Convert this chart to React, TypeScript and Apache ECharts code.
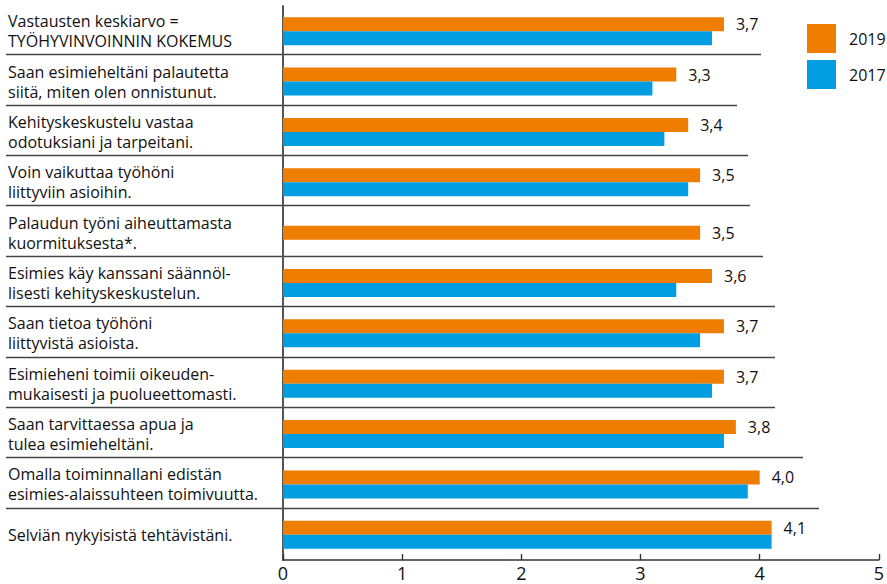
import React, { useEffect, useRef } from "react";
import * as echarts from "echarts";

const categories = [
  "Vastausten keskiarvo =\nTYÖHYVINVOINNIN KOKEMUS",
  "Saan esimieheltäni palautetta\nsiitä, miten olen onnistunut.",
  "Kehityskeskustelu vastaa\nodotuksiani ja tarpeitani.",
  "Voin vaikuttaa työhöni\nliittyviin asioihin.",
  "Palaudun työni aiheuttamasta\nkuormituksesta*.",
  "Esimies käy kanssani säännöl-\nlisesti kehityskeskustelun.",
  "Saan tietoa työhöni\nliittyvistä asioista.",
  "Esimieheni toimii oikeuden-\nmukaisesti ja puolueettomasti.",
  "Saan tarvittaessa apua ja\ntulea esimieheltäni.",
  "Omalla toiminnallani edistän\nesimies-alaissuhteen toimivuutta.",
  "Selviän nykyisistä tehtävistäni.",
];

const values2019: (number | null)[] = [3.7, 3.3, 3.4, 3.5, 3.5, 3.6, 3.7, 3.7, 3.8, 4.0, 4.1];
const values2017: (number | null)[] = [3.6, 3.1, 3.2, 3.4, null, 3.3, 3.5, 3.6, 3.7, 3.9, 4.1];

const xTicks = [0, 1, 2, 3, 4, 5];

// layout (not data)
const GRID_LEFT = 283;
const GRID_RIGHT = 5;
const GRID_TOP = 6;
const GRID_HEIGHT = 554;
const separatorEnds = [761, 737, 748, 750, 763, 775, 775, 775, 803, 819];

const ORANGE = "#EF7D00";
const BLUE = "#009EE0";
const FONT = "'Open Sans'";

export default function App() {
  const ref = useRef<HTMLDivElement>(null);

  useEffect(() => {
    if (!ref.current) return;
    const chart = echarts.init(ref.current, undefined, { renderer: "svg" });

    const paired2019 = values2019.map((v, i) => (values2017[i] == null ? null : v));
    const solo2019 = values2019.map((v, i) => (values2017[i] == null ? v : null));

    const band = GRID_HEIGHT / categories.length;
    const separators = separatorEnds.map((end, i) => ({
      type: "line",
      shape: {
        x1: 6,
        y1: Math.round(GRID_TOP + band * (i + 1) - 2) + 0.5,
        x2: end,
        y2: Math.round(GRID_TOP + band * (i + 1) - 2) + 0.5,
      },
      style: { stroke: "#444", lineWidth: 1.6 },
      silent: true,
      z: 0,
    }));

    const fmt = (p: any) => {
      const v = Array.isArray(p.value) ? p.value[0] : p.value;
      return v == null ? "" : Number(v).toFixed(1).replace(".", ",");
    };

    const valueLabel = {
      show: true,
      position: "right",
      distance: 12,
      formatter: fmt,
      color: "#111",
      fontSize: 16,
      fontFamily: FONT,
    };

    const option: any = {
      animation: false,
      backgroundColor: "#ffffff",
      textStyle: { fontFamily: FONT },
      grid: {
        left: GRID_LEFT,
        right: GRID_RIGHT,
        top: GRID_TOP,
        height: GRID_HEIGHT,
        containLabel: false,
      },
      legend: {
        data: ["2019", "2017"],
        orient: "vertical",
        left: 802,
        top: 19,
        itemWidth: 29,
        itemHeight: 29,
        itemGap: 7,
        icon: "rect",
        selectedMode: false,
        textStyle: {
          fontSize: 16,
          color: "#111",
          fontFamily: FONT,
          padding: [0, 0, 0, 8],
        },
      },
      xAxis: {
        type: "value",
        min: xTicks[0],
        max: xTicks[xTicks.length - 1],
        interval: 1,
        axisLine: { show: true, lineStyle: { color: "#333", width: 1.6 } },
        axisTick: { show: true, inside: true, length: 6, lineStyle: { color: "#333", width: 1.4 } },
        splitLine: { show: false },
        axisLabel: {
          fontSize: 18,
          lineHeight: 18,
          color: "#111",
          margin: 4,
          fontFamily: FONT,
        },
      },
      yAxis: [
        {
          type: "category",
          data: categories,
          inverse: true,
          axisLine: { show: true, lineStyle: { color: "#555", width: 2 } },
          axisTick: { show: false },
          axisLabel: {
            align: "left",
            margin: GRID_LEFT - 8,
            fontSize: 16,
            lineHeight: 20,
            color: "#111",
            fontFamily: FONT,
          },
        },
        {
          type: "category",
          data: categories,
          inverse: true,
          show: false,
        },
      ],
      series: [
        {
          name: "2019",
          type: "bar",
          yAxisIndex: 0,
          data: paired2019,
          barWidth: 14,
          barGap: "0%",
          itemStyle: { color: ORANGE },
          label: valueLabel,
        },
        {
          name: "2017",
          type: "bar",
          yAxisIndex: 0,
          data: values2017,
          barWidth: 14,
          barGap: "0%",
          itemStyle: { color: BLUE },
        },
        {
          name: "2019",
          type: "bar",
          yAxisIndex: 1,
          data: solo2019,
          barWidth: 14,
          itemStyle: { color: ORANGE },
          label: valueLabel,
        },
      ],
      graphic: separators,
    };

    chart.setOption(option);
    return () => chart.dispose();
  }, []);

  return (
    <div
      ref={ref}
      style={{ position: "fixed", left: 0, top: 0, width: 887, height: 584, background: "#fff" }}
    />
  );
}
